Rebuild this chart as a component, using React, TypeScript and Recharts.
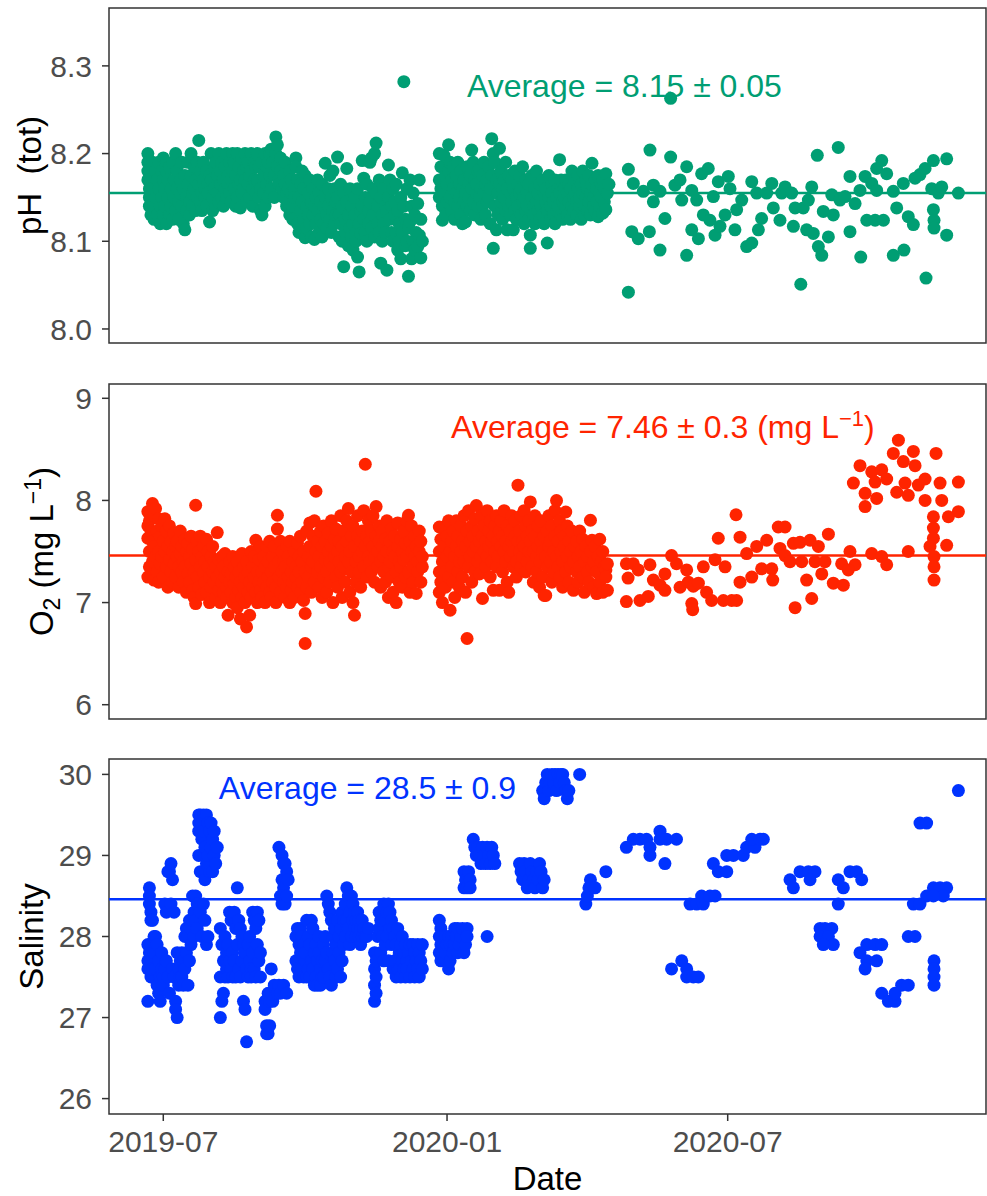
import React from 'react';
import {
  ScatterChart, Scatter, XAxis, YAxis, ReferenceLine, ReferenceArea, ReferenceDot,
} from 'recharts';

// x values are days counted from 2019-07-01
const dateTicks = [0, 184, 366];
const dateTickLabels = ['2019-07', '2020-01', '2020-07'];
const dateDomain: [number, number] = [-35.2, 533.5];

const phTicks = [8.0, 8.1, 8.2, 8.3];
const o2Ticks = [6, 7, 8, 9];
const salTicks = [26, 27, 28, 29, 30];

const phMean = 8.155;
const o2Mean = 7.46;
const salMean = 28.46;

const phRun2019: [number, number][] = [
  [-10, 8.2], [-10, 8.19], [-10, 8.18], [-10, 8.17], [-9, 8.16], [-9, 8.15], [-9, 8.14], [-8, 8.13], [-7, 8.19], [-7, 8.16],
  [-6, 8.14], [-6, 8.125], [-5, 8.18], [-5, 8.15], [-4, 8.17], [-4, 8.13], [-3, 8.19], [-3, 8.16], [-2, 8.14], [-2, 8.12],
  [-1, 8.18], [-1, 8.15], [0, 8.195], [0, 8.17], [0, 8.13], [1, 8.16], [1, 8.14], [2, 8.19], [2, 8.18], [2, 8.12],
  [3, 8.17], [3, 8.15], [4, 8.185], [4, 8.13], [5, 8.16], [5, 8.14], [6, 8.19], [6, 8.125], [7, 8.17], [7, 8.15],
  [8, 8.2], [8, 8.135], [9, 8.18], [9, 8.16], [10, 8.145], [10, 8.125], [11, 8.17], [11, 8.155], [12, 8.19], [12, 8.14],
  [13, 8.16], [13, 8.12], [14, 8.113], [14, 8.175], [15, 8.15], [15, 8.135], [16, 8.19], [16, 8.165], [17, 8.145], [17, 8.13],
  [18, 8.2], [18, 8.175], [19, 8.155], [19, 8.14], [20, 8.185], [20, 8.16], [21, 8.135], [21, 8.17], [22, 8.15], [22, 8.19],
  [23, 8.215], [23, 8.165], [24, 8.145], [24, 8.18], [25, 8.155], [25, 8.135], [26, 8.19], [26, 8.17], [27, 8.15], [27, 8.16],
  [28, 8.18], [28, 8.14], [29, 8.165], [29, 8.155], [30, 8.122], [30, 8.175], [31, 8.2], [31, 8.17], [32, 8.15], [32, 8.135],
  [33, 8.185], [33, 8.16], [34, 8.14], [34, 8.19], [35, 8.175], [35, 8.155], [36, 8.2], [36, 8.145], [37, 8.165], [37, 8.18],
  [38, 8.15], [38, 8.19], [39, 8.17], [39, 8.14], [40, 8.185], [40, 8.16], [41, 8.2], [41, 8.15], [42, 8.175], [42, 8.165],
  [43, 8.19], [43, 8.155], [44, 8.17], [44, 8.145], [45, 8.2], [45, 8.18], [46, 8.19], [46, 8.16], [47, 8.14], [47, 8.175],
  [48, 8.2], [48, 8.15], [49, 8.185], [49, 8.165], [50, 8.138], [50, 8.17], [51, 8.195], [51, 8.155], [52, 8.18], [52, 8.16],
  [53, 8.2], [53, 8.17], [54, 8.145], [54, 8.185], [55, 8.19], [55, 8.165], [56, 8.175], [56, 8.15], [57, 8.2], [57, 8.18],
  [58, 8.16], [58, 8.14], [59, 8.19], [59, 8.17], [60, 8.185], [60, 8.155], [61, 8.2], [61, 8.17], [62, 8.15], [62, 8.185],
  [63, 8.16], [63, 8.135], [64, 8.13], [64, 8.19], [65, 8.175], [65, 8.155], [66, 8.2], [66, 8.14], [67, 8.165], [67, 8.185],
  [68, 8.19], [68, 8.15], [69, 8.2], [69, 8.175], [70, 8.205], [70, 8.16], [71, 8.19], [72, 8.175], [72, 8.15],
  [73, 8.219], [73, 8.2], [74, 8.21], [74, 8.185], [75, 8.17], [75, 8.165], [76, 8.195], [76, 8.18], [77, 8.16], [78, 8.175],
  [78, 8.15], [79, 8.19], [79, 8.165], [80, 8.155], [80, 8.14], [81, 8.16], [81, 8.145], [82, 8.18], [82, 8.13], [83, 8.155],
  [83, 8.17], [84, 8.14], [84, 8.125], [85, 8.16], [85, 8.15], [86, 8.195], [86, 8.185], [87, 8.17], [87, 8.12], [88, 8.15],
  [88, 8.11], [89, 8.135], [89, 8.165], [90, 8.18], [90, 8.145], [91, 8.125], [91, 8.16], [92, 8.104], [92, 8.175], [93, 8.14],
  [93, 8.115], [94, 8.155], [94, 8.13], [95, 8.17], [95, 8.12], [96, 8.145], [96, 8.105], [97, 8.16], [97, 8.13], [98, 8.14],
  [98, 8.102], [99, 8.15], [99, 8.12], [100, 8.17], [100, 8.135], [101, 8.11], [101, 8.155], [102, 8.145], [102, 8.125], [103, 8.165],
  [103, 8.105], [104, 8.14], [104, 8.12], [105, 8.189], [105, 8.15], [106, 8.13], [106, 8.115], [107, 8.16], [107, 8.14], [108, 8.175],
  [108, 8.125], [109, 8.15], [109, 8.11], [110, 8.18], [110, 8.135], [111, 8.16], [111, 8.12], [112, 8.145], [112, 8.13], [113, 8.196],
  [113, 8.15], [114, 8.13], [114, 8.105], [115, 8.165], [115, 8.12], [116, 8.14], [116, 8.1], [117, 8.071], [117, 8.155], [118, 8.125],
  [118, 8.11], [119, 8.183], [119, 8.145], [120, 8.13], [120, 8.095], [121, 8.16], [121, 8.115], [122, 8.14], [122, 8.105], [123, 8.12],
  [123, 8.09], [124, 8.15], [124, 8.13], [125, 8.11], [125, 8.1], [126, 8.082], [126, 8.16], [127, 8.065], [127, 8.12], [128, 8.109],
  [128, 8.135], [129, 8.192], [129, 8.14], [130, 8.172], [130, 8.125], [131, 8.15], [131, 8.11], [132, 8.165], [132, 8.1], [133, 8.135],
  [133, 8.12], [134, 8.19], [134, 8.145], [135, 8.195], [135, 8.115], [136, 8.16], [136, 8.13], [137, 8.2], [137, 8.105], [138, 8.212],
  [138, 8.155], [139, 8.14], [139, 8.12], [140, 8.17], [140, 8.11], [141, 8.075], [141, 8.15], [142, 8.13], [142, 8.1], [143, 8.16],
  [143, 8.12], [144, 8.14], [144, 8.11], [145, 8.067], [145, 8.135], [146, 8.187], [146, 8.15], [147, 8.17], [147, 8.125], [148, 8.14],
  [148, 8.11], [149, 8.16], [149, 8.1], [150, 8.145], [150, 8.13], [151, 8.109], [151, 8.165], [152, 8.09], [152, 8.135], [153, 8.12],
  [153, 8.1], [154, 8.15], [154, 8.08], [155, 8.178], [155, 8.11], [156, 8.282], [156, 8.14], [157, 8.125], [157, 8.095], [158, 8.16],
  [158, 8.1], [159, 8.06], [159, 8.115], [160, 8.17], [160, 8.122], [161, 8.08], [161, 8.14], [162, 8.1], [162, 8.155], [163, 8.09],
  [163, 8.13], [164, 8.11], [165, 8.143], [165, 8.094], [166, 8.107], [166, 8.17], [167, 8.081], [167, 8.125], [168, 8.1],
];

const phRun2020: [number, number][] = [
  [179, 8.2], [179, 8.17], [179, 8.15], [180, 8.185], [180, 8.16], [181, 8.14], [181, 8.124], [182, 8.198], [182, 8.155], [183, 8.175],
  [183, 8.13], [184, 8.165], [184, 8.145], [185, 8.21], [185, 8.18], [186, 8.19], [186, 8.15], [187, 8.17], [187, 8.135], [188, 8.16],
  [188, 8.185], [189, 8.145], [189, 8.125], [190, 8.175], [190, 8.155], [191, 8.19], [191, 8.14], [192, 8.165], [192, 8.15], [193, 8.18],
  [193, 8.13], [194, 8.16], [194, 8.12], [195, 8.17], [195, 8.145], [196, 8.155], [196, 8.122], [197, 8.185], [197, 8.14], [198, 8.165],
  [198, 8.15], [199, 8.175], [199, 8.135], [200, 8.204], [200, 8.16], [201, 8.19], [201, 8.145], [202, 8.17], [202, 8.13], [203, 8.155],
  [203, 8.165], [204, 8.14], [204, 8.18], [205, 8.182], [205, 8.15], [206, 8.16], [206, 8.125], [207, 8.175], [207, 8.14], [208, 8.155],
  [208, 8.19], [209, 8.165], [209, 8.13], [210, 8.145], [210, 8.17], [211, 8.185], [211, 8.15], [212, 8.16], [212, 8.12], [213, 8.217],
  [213, 8.175], [214, 8.2], [214, 8.092], [215, 8.19], [215, 8.14], [216, 8.17], [216, 8.113], [217, 8.155], [217, 8.13], [218, 8.206],
  [218, 8.165], [219, 8.18], [219, 8.145], [220, 8.16], [220, 8.125], [221, 8.17], [221, 8.15], [222, 8.19], [222, 8.135], [223, 8.16],
  [223, 8.113], [224, 8.175], [224, 8.14], [225, 8.155], [225, 8.13], [226, 8.17], [226, 8.145], [227, 8.113], [227, 8.16], [228, 8.18],
  [228, 8.135], [229, 8.15], [229, 8.125], [230, 8.165], [230, 8.14], [231, 8.175], [231, 8.155], [232, 8.13], [232, 8.16], [233, 8.185],
  [233, 8.145], [234, 8.15], [234, 8.12], [235, 8.17], [235, 8.135], [236, 8.155], [236, 8.14], [237, 8.125], [237, 8.165], [238, 8.107],
  [238, 8.092], [239, 8.15], [239, 8.175], [240, 8.14], [240, 8.13], [241, 8.16], [241, 8.12], [242, 8.145], [242, 8.18], [243, 8.135],
  [243, 8.155], [244, 8.165], [244, 8.125], [245, 8.15], [245, 8.14], [246, 8.17], [246, 8.13], [247, 8.155], [247, 8.12], [248, 8.16],
  [248, 8.145], [249, 8.098], [249, 8.135], [250, 8.175], [250, 8.15], [251, 8.14], [251, 8.125], [252, 8.165], [252, 8.155], [253, 8.13],
  [253, 8.145], [254, 8.17], [254, 8.12], [255, 8.15], [255, 8.135], [256, 8.16], [256, 8.14], [257, 8.193], [257, 8.155], [258, 8.13],
  [258, 8.17], [259, 8.145], [259, 8.125], [260, 8.16], [260, 8.15], [261, 8.14], [261, 8.17], [262, 8.155], [262, 8.13], [263, 8.165],
  [263, 8.145], [264, 8.125], [264, 8.16], [265, 8.18], [265, 8.14], [266, 8.15], [266, 8.135], [267, 8.17], [267, 8.155], [268, 8.145],
  [268, 8.13], [269, 8.16], [269, 8.175], [270, 8.14], [270, 8.15], [271, 8.165], [271, 8.125], [272, 8.155], [272, 8.18], [273, 8.14],
  [273, 8.13], [274, 8.17], [274, 8.15], [275, 8.16], [275, 8.135], [276, 8.145], [276, 8.175], [277, 8.155], [277, 8.13], [278, 8.189],
  [278, 8.165], [279, 8.15], [279, 8.14], [280, 8.17], [280, 8.135], [281, 8.16], [281, 8.145], [282, 8.128], [282, 8.175], [283, 8.155],
  [283, 8.14], [284, 8.165], [284, 8.15], [285, 8.132], [285, 8.17], [286, 8.16], [286, 8.145], [287, 8.177], [287, 8.136], [288, 8.155],
  [289, 8.165],
];

const phSparse: [number, number][] = [
  [301.6, 8.182], [304.8, 8.166], [301.6, 8.042], [303.8, 8.111], [308, 8.103], [311.3, 8.157], [315.6, 8.204], [315.2, 8.111],
  [317.8, 8.164], [317.8, 8.145], [322.1, 8.157], [322.1, 8.09], [325.3, 8.126], [329, 8.196], [329, 8.263], [331.8, 8.164],
  [335.1, 8.17], [336.2, 8.147], [339.4, 8.185], [339.4, 8.084], [342.7, 8.158], [345.9, 8.147], [342.7, 8.113], [347, 8.103],
  [349.1, 8.177], [353.4, 8.183], [350.2, 8.13], [354.5, 8.124], [356.7, 8.151], [357.8, 8.107], [359.9, 8.168], [361, 8.117],
  [364.3, 8.13], [366.4, 8.174], [367.5, 8.16], [370.7, 8.113], [371.8, 8.136], [375.1, 8.147], [378.3, 8.094], [381.6, 8.098],
  [381.6, 8.168], [384.8, 8.155], [385.9, 8.113], [388, 8.126], [391.3, 8.155], [394.6, 8.166], [395.6, 8.138], [399.9, 8.124],
  [401, 8.155], [403.2, 8.162], [407.5, 8.155], [408.6, 8.117], [409.7, 8.138], [413.4, 8.051], [415, 8.138], [417.2, 8.113],
  [420.5, 8.162], [418.3, 8.147], [421.5, 8.109], [424.1, 8.198], [424.8, 8.094], [427, 8.084], [428, 8.134], [431.3, 8.105],
  [433.5, 8.153], [434.5, 8.13], [437.7, 8.207], [438.8, 8.147], [442.1, 8.151], [445.3, 8.174], [445.3, 8.111], [448.6, 8.143],
  [451.8, 8.158], [452.3, 8.082], [455.1, 8.174], [456.2, 8.124], [459.4, 8.166], [462.6, 8.183], [462.6, 8.158], [461.6, 8.124],
  [465.9, 8.192], [467, 8.124], [469.1, 8.177], [473.4, 8.157], [473.4, 8.084], [475.6, 8.138], [479.9, 8.166], [480.3, 8.09],
  [483.1, 8.128], [486.4, 8.119], [487.5, 8.172], [490.7, 8.176], [494, 8.183], [494.6, 8.058], [498.3, 8.16], [499.4, 8.192],
  [499.4, 8.136], [499.8, 8.124], [499.8, 8.115], [502.6, 8.155], [504.8, 8.162], [508, 8.194], [508, 8.107], [515.6, 8.155],
];

const o2Run2019: [number, number][] = [
  [-10, 7.89], [-10, 7.63], [-10, 7.25], [-10, 7.75], [-9, 7.8], [-9, 7.5], [-9, 7.35], [-8, 7.7], [-8, 7.28], [-7, 7.97],
  [-7, 7.6], [-7, 7.4], [-6, 7.85], [-6, 7.55], [-6, 7.22], [-5, 7.92], [-5, 7.45], [-4, 7.7], [-4, 7.3], [-3, 7.82],
  [-3, 7.5], [-3, 7.2], [-2, 7.65], [-2, 7.38], [-1, 7.75], [-1, 7.45], [0, 7.6], [0, 7.25], [1, 7.82], [1, 7.5],
  [2, 7.7], [2, 7.35], [3, 7.55], [3, 7.15], [4, 7.75], [4, 7.42], [5, 7.6], [5, 7.3], [6, 7.5], [6, 7.2],
  [7, 7.68], [7, 7.38], [8, 7.55], [8, 7.25], [9, 7.45], [9, 7.6], [10, 7.35], [10, 7.15], [11, 7.7], [11, 7.48],
  [12, 7.3], [12, 7.55], [13, 7.4], [13, 7.2], [14, 7.62], [14, 7.35], [15, 7.5], [15, 7.1], [16, 7.28], [16, 7.58],
  [17, 7.45], [17, 7.2], [18, 7.65], [18, 7.38], [19, 7.52], [19, 7.12], [20, 7.3], [20, 7.05], [21, 7.953], [21, 6.99],
  [21, 7.42], [22, 7.6], [22, 7.25], [23, 7.5], [23, 7.15], [24, 7.35], [24, 7.65], [25, 7.45], [25, 7.08], [26, 7.55],
  [26, 7.3], [27, 7.2], [27, 7.4], [28, 7.62], [28, 7.1], [29, 7.35], [29, 7.5], [30, 7.25], [30, 7.0], [31, 7.45],
  [31, 7.15], [32, 7.55], [32, 7.3], [33, 7.2], [33, 7.4], [34, 7.05], [34, 7.35], [35, 7.685], [35, 7.25], [36, 7.42],
  [36, 7.12], [37, 7.3], [37, 7.0], [38, 7.2], [38, 7.45], [39, 7.1], [39, 7.35], [40, 7.25], [40, 7.48], [41, 7.15],
  [41, 7.05], [42, 6.876], [42, 7.3], [43, 7.4], [43, 7.2], [44, 7.1], [44, 7.28], [45, 7.45], [45, 7.0], [46, 7.18],
  [46, 7.35], [47, 7.25], [47, 7.05], [48, 6.95], [48, 7.4], [49, 7.12], [49, 7.3], [50, 6.84], [50, 7.2], [51, 7.48],
  [51, 7.05], [52, 7.35], [52, 7.15], [53, 7.25], [53, 7.0], [54, 6.762], [54, 7.4], [55, 7.1], [55, 7.3], [56, 6.876],
  [56, 7.2], [57, 7.5], [57, 7.05], [58, 7.35], [58, 7.15], [59, 7.25], [59, 7.45], [60, 7.61], [60, 7.1], [61, 7.3],
  [61, 7.0], [62, 7.42], [62, 7.2], [63, 7.55], [63, 7.12], [64, 7.3], [64, 7.05], [65, 7.45], [65, 7.2], [66, 7.35],
  [66, 7.0], [67, 7.55], [67, 7.15], [68, 7.25], [68, 7.4], [69, 7.1], [69, 7.6], [70, 7.3], [70, 7.05], [71, 7.45],
  [71, 7.2], [72, 7.35], [72, 7.55], [73, 7.15], [73, 7.0], [74, 7.855], [74, 7.72], [75, 7.4], [75, 7.25], [76, 7.6],
  [76, 7.1], [77, 7.3], [77, 7.5], [78, 7.2], [78, 7.4], [79, 7.05], [79, 7.35], [80, 7.55], [80, 7.15], [81, 7.25],
  [81, 7.45], [82, 7.0], [82, 7.6], [83, 7.3], [83, 7.12], [84, 7.4], [84, 7.2], [85, 7.5], [85, 7.05], [86, 7.35],
  [86, 7.25], [87, 7.15], [87, 7.58], [88, 7.45], [88, 7.3], [89, 7.1], [89, 7.65], [90, 7.2], [90, 7.4], [91, 7.02],
  [91, 7.5], [92, 6.893], [92, 6.599], [92, 7.3], [93, 7.7], [93, 7.15], [94, 7.45], [94, 7.25], [95, 7.78], [95, 7.55],
  [96, 7.35], [96, 7.1], [97, 7.65], [97, 7.4], [98, 7.8], [98, 7.2], [99, 8.09], [99, 7.5], [100, 7.3], [100, 7.6],
  [101, 7.45], [101, 7.15], [102, 7.7], [102, 7.35], [103, 7.55], [103, 7.05], [104, 7.75], [104, 7.25], [105, 7.42], [105, 7.6],
  [106, 7.3], [106, 7.1], [107, 7.5], [107, 7.68], [108, 7.2], [108, 7.4], [109, 7.8], [109, 7.55], [110, 7.35], [110, 7.0],
  [111, 7.62], [111, 7.45], [112, 7.25], [112, 7.72], [113, 7.5], [113, 7.15], [114, 7.4], [114, 7.6], [115, 7.3], [115, 7.85],
  [116, 7.55], [116, 7.05], [117, 7.7], [117, 7.35], [118, 7.45], [118, 7.2], [119, 7.6], [119, 7.8], [120, 7.92], [120, 7.4],
  [121, 7.5], [121, 7.1], [122, 7.65], [122, 7.3], [123, 7.75], [123, 7.0], [124, 6.876], [124, 7.55], [125, 7.4], [125, 7.2],
  [126, 7.65], [126, 7.85], [127, 7.45], [127, 7.3], [128, 7.6], [128, 7.15], [129, 7.7], [129, 7.5], [130, 7.9], [130, 7.35],
  [131, 8.354], [131, 7.55], [132, 7.65], [132, 7.25], [133, 7.8], [133, 7.45], [134, 7.6], [134, 7.4], [135, 7.7], [135, 7.3],
  [136, 7.55], [136, 7.85], [137, 7.45], [137, 7.2], [138, 7.94], [138, 7.65], [139, 7.5], [139, 7.35], [140, 7.75], [140, 7.6],
  [141, 7.4], [141, 7.15], [142, 7.55], [142, 7.7], [143, 7.3], [143, 7.45], [144, 7.62], [144, 7.2], [145, 7.8], [145, 7.5],
  [146, 7.35], [146, 7.05], [147, 7.6], [147, 7.4], [148, 7.72], [148, 7.25], [149, 7.5], [149, 7.1], [150, 7.45], [150, 7.65],
  [151, 7.3], [151, 7.0], [152, 7.55], [152, 7.78], [153, 7.4], [153, 7.2], [154, 7.62], [154, 7.35], [155, 7.5], [155, 7.15],
  [156, 7.7], [156, 7.42], [157, 7.25], [157, 7.58], [158, 7.8], [158, 7.45], [159, 7.855], [159, 7.3], [160, 7.6], [160, 7.1],
  [161, 7.75], [161, 7.5], [162, 7.35], [162, 7.2], [163, 7.65], [163, 7.45], [164, 7.55], [164, 7.09], [165, 7.4], [165, 7.3],
  [166, 7.7], [166, 7.5], [167, 7.2], [167, 7.6], [168, 7.35], [168, 7.45],
];

const o2Run2020: [number, number][] = [
  [179, 7.74], [179, 7.5], [179, 7.3], [179, 7.1], [180, 7.62], [180, 7.2], [181, 7.4], [181, 7.0], [182, 7.74], [182, 7.55],
  [183, 7.3], [183, 7.15], [184, 7.65], [184, 7.45], [185, 7.8], [185, 7.25], [186, 6.925], [186, 7.5], [187, 7.6], [187, 7.35],
  [188, 7.7], [188, 7.2], [189, 7.45], [189, 7.05], [190, 7.8], [190, 7.55], [191, 7.3], [191, 7.65], [192, 7.4], [192, 7.15],
  [193, 7.75], [193, 7.5], [194, 7.6], [194, 7.25], [195, 7.85], [195, 7.4], [196, 7.55], [196, 7.1], [197, 6.648], [197, 7.7],
  [198, 7.9], [198, 7.35], [199, 7.6], [199, 7.45], [200, 7.75], [200, 7.2], [201, 7.5], [201, 7.65], [202, 7.3], [202, 7.82],
  [203, 7.95], [203, 7.55], [204, 7.4], [204, 7.7], [205, 7.6], [205, 7.28], [206, 7.85], [206, 7.45], [207, 7.04], [207, 7.65],
  [208, 7.5], [208, 7.75], [209, 7.35], [209, 7.6], [210, 7.9], [210, 7.45], [211, 7.55], [211, 7.7], [212, 7.25], [212, 7.8],
  [213, 7.6], [213, 7.4], [214, 7.65], [214, 7.12], [215, 7.5], [215, 7.75], [216, 7.85], [216, 7.35], [217, 7.6], [217, 7.45],
  [218, 7.12], [218, 7.7], [219, 7.55], [219, 7.8], [220, 7.3], [220, 7.65], [221, 7.5], [221, 7.9], [222, 7.4], [222, 7.6],
  [223, 7.75], [223, 7.2], [224, 7.1], [224, 7.55], [225, 7.7], [225, 7.45], [226, 7.85], [226, 7.6], [227, 7.35], [227, 7.5],
  [228, 7.65], [228, 7.8], [229, 7.4], [229, 7.25], [230, 8.149], [230, 7.6], [231, 7.7], [231, 7.5], [232, 7.85], [232, 7.35],
  [233, 7.6], [233, 7.45], [234, 7.9], [234, 7.55], [235, 7.75], [235, 7.3], [236, 7.65], [236, 7.4], [237, 7.8], [237, 7.5],
  [238, 7.985], [238, 7.6], [239, 7.35], [239, 7.7], [240, 7.5], [240, 7.2], [241, 7.65], [241, 7.85], [242, 7.45], [242, 7.3],
  [243, 7.75], [243, 7.55], [244, 7.4], [244, 7.15], [245, 7.6], [245, 7.8], [246, 7.5], [246, 7.25], [247, 7.07], [247, 7.65],
  [248, 7.07], [248, 7.45], [249, 7.7], [249, 7.35], [250, 7.55], [250, 7.85], [251, 7.4], [251, 7.6], [252, 7.2], [252, 7.75],
  [253, 7.5], [253, 7.3], [254, 7.65], [254, 7.9], [255, 7.999], [255, 7.45], [256, 7.6], [256, 7.35], [257, 7.8], [257, 7.25],
  [258, 7.5], [258, 7.7], [259, 7.4], [259, 7.15], [260, 7.65], [260, 7.55], [261, 7.887], [261, 7.3], [262, 7.45], [262, 7.75],
  [263, 7.6], [263, 7.2], [264, 7.5], [264, 7.35], [265, 7.7], [266, 7.4], [266, 7.12], [267, 7.55], [268, 7.3], [268, 7.6],
  [269, 7.45], [269, 7.2], [270, 7.7], [270, 7.35], [271, 7.5], [272, 7.25], [272, 7.62], [273, 7.4], [273, 7.1], [274, 7.55],
  [275, 7.3], [275, 7.45], [276, 7.2], [277, 7.806], [277, 7.5], [278, 7.61], [278, 7.35], [279, 7.4], [279, 7.15], [280, 7.55],
  [281, 7.088], [281, 7.3], [282, 7.45], [283, 7.62], [283, 7.2], [284, 7.4], [285, 7.1], [285, 7.5], [286, 7.35], [287, 7.32],
  [287, 7.25], [288, 7.38], [288, 7.12],
];

const o2Sparse: [number, number][] = [
  [300.3, 7.38], [304.8, 7.38], [301.4, 7.24], [300.3, 7.01], [308, 7.32], [309.1, 7.02], [315.6, 7.37], [314.5, 7.06],
  [317.8, 7.22], [322.1, 7.17], [325.3, 7.28], [325.3, 7.12], [329.6, 7.46], [332.8, 7.38], [335.1, 7.15], [339.4, 7.32],
  [340.5, 7.2], [343.7, 7.16], [342.7, 6.99], [343.3, 6.93], [347, 7.19], [350.2, 7.35], [352.3, 7.1], [355.6, 7.02],
  [357.8, 7.42], [359.9, 7.63], [363.2, 7.02], [364.3, 7.35], [368.6, 7.02], [371.8, 7.02], [371.4, 7.86], [374, 7.64],
  [374, 7.2], [378.3, 7.48], [381.6, 7.25], [384.8, 7.55], [388, 7.33], [391.3, 7.61], [394.6, 7.33], [395.2, 7.22],
  [398.8, 7.74], [403.2, 7.74], [399.9, 7.53], [403.2, 7.46], [406.4, 7.4], [408.6, 7.58], [409.7, 6.95], [412.9, 7.59],
  [414, 7.4], [417.2, 7.22], [420.5, 7.04], [419.4, 7.61], [424.8, 7.55], [422.6, 7.4], [427, 7.28], [431.3, 7.67],
  [429.1, 7.4], [434.5, 7.19], [441, 7.17], [439.9, 7.38], [445.3, 7.5], [448.6, 7.37], [444.2, 7.32], [459.4, 7.48],
  [465.9, 7.45], [469.1, 7.37], [483.1, 7.5],
  [447.5, 8.17], [451.8, 8.34], [455.1, 7.94], [455.1, 8.07], [459.4, 8.28], [461.6, 8.18], [462.6, 8.02], [465.9, 8.3],
  [469.1, 8.21], [473.4, 8.46], [476.7, 8.59], [475.6, 8.08], [479.9, 8.38], [481, 8.17], [483.1, 8.05], [486.4, 8.48],
  [487.5, 8.34], [489.6, 8.15], [494, 8.21], [494, 8.0], [501.1, 8.46], [503.7, 8.17], [504.8, 8.0], [515.6, 8.18],
  [515.6, 7.89], [509.1, 7.84], [508, 7.56], [499.4, 7.84], [499.4, 7.73], [499.4, 7.63], [497.2, 7.55], [499.8, 7.45],
  [499.8, 7.35], [499.8, 7.22],
];

const salRun2019: [number, number][] = [
  [-10, 27.9], [-10, 27.7], [-10, 27.6], [-10, 27.2], [-9, 28.6], [-9, 28.5], [-9, 28.4], [-9, 27.8], [-8, 28.3], [-8, 28.2],
  [-8, 27.9], [-8, 27.5], [-7, 28.2], [-7, 27.7], [-7, 27.6], [-6, 28.0], [-6, 27.8], [-5, 28.0], [-5, 27.6], [-4, 27.9],
  [-4, 27.4], [-3, 27.7], [-3, 27.3], [-2, 27.5], [-2, 27.2], [-1, 27.6], [-1, 27.8], [0, 27.4], [0, 27.5],
  [1, 28.4], [1, 27.6], [2, 28.3], [2, 27.7], [3, 28.8], [3, 27.5], [4, 28.8], [4, 27.3], [5, 28.9], [5, 28.4],
  [6, 28.7], [6, 27.6], [7, 28.3], [7, 27.5], [8, 27.2], [8, 27.1], [9, 27.0], [9, 27.8], [10, 27.4], [10, 27.6],
  [11, 27.5], [11, 27.7], [12, 27.8], [12, 27.5], [13, 27.7], [13, 27.4], [14, 28.0], [14, 27.6], [15, 28.1], [15, 27.8],
  [16, 28.0], [16, 27.4], [17, 28.2], [17, 27.7], [18, 28.1], [18, 27.9], [19, 28.5], [19, 28.2], [20, 28.3], [20, 28.0],
  [21, 28.5], [21, 28.2], [22, 28.4], [22, 28.1],
  [23, 29.5], [23, 29.4], [23, 29.3], [23, 29.0], [24, 28.8], [24, 29.5], [25, 29.4], [25, 29.2], [26, 29.5], [26, 29.3],
  [27, 28.7], [27, 29.1], [28, 29.5], [28, 28.9], [29, 29.4], [29, 29.0], [30, 29.3], [30, 28.8], [31, 29.4], [31, 29.1],
  [32, 29.2], [32, 28.8], [33, 29.3], [33, 29.0], [34, 28.9], [35, 29.1],
  [24, 28.3], [25, 28.0], [26, 28.4], [27, 28.2], [28, 27.9], [29, 28.0],
  [37, 28.1], [37, 27.5], [37, 27.0], [38, 27.9], [38, 27.2], [39, 27.7], [39, 27.3], [40, 28.0], [40, 27.5], [41, 27.8],
  [41, 27.6], [42, 27.9], [42, 27.5], [43, 28.3], [43, 27.7], [44, 28.2], [44, 27.6], [45, 27.8], [45, 27.5], [46, 28.3],
  [46, 27.7], [47, 28.1], [47, 27.5], [48, 28.6], [48, 27.9], [49, 28.2], [49, 27.6],
  [50, 28.1], [50, 27.5], [51, 28.0], [51, 27.7], [52, 27.9], [52, 27.2], [53, 27.8], [53, 27.1], [54, 26.7], [54, 27.6],
  [55, 27.9], [55, 27.5], [56, 27.7], [56, 28.0], [57, 27.6], [57, 27.5], [58, 28.3], [58, 27.8], [59, 28.2], [59, 27.6],
  [60, 28.1], [60, 27.5], [61, 28.3], [61, 27.9], [62, 28.2], [62, 27.7], [63, 27.8], [63, 27.5], [70, 27.6],
  [66, 27.2], [66, 27.1], [67, 26.9], [67, 26.8], [68, 27.3], [68, 26.8], [69, 27.2], [69, 26.9], [70, 27.3], [71, 27.2],
  [72, 27.4], [73, 27.3], [74, 27.3], [75, 27.4], [76, 27.3], [78, 27.4], [80, 27.3],
  [75, 29.1], [77, 29.0], [78, 28.9], [79, 28.7], [77, 28.7], [78, 28.6], [79, 28.9], [80, 28.8], [76, 28.5], [77, 28.4],
  [79, 28.4], [80, 28.5], [81, 28.7],
  [86, 28.0], [86, 27.7], [87, 28.1], [87, 27.6], [88, 27.9], [88, 27.5], [89, 28.1], [89, 27.8], [90, 28.0], [90, 27.6],
  [91, 27.9], [91, 27.5], [92, 27.7], [92, 27.8], [93, 28.2], [93, 27.5], [94, 28.0], [94, 27.6], [95, 27.9], [95, 27.5],
  [96, 28.2], [96, 27.7], [97, 28.1], [97, 27.6], [98, 27.8], [98, 27.4], [99, 27.9], [99, 27.5], [100, 27.7], [100, 27.4],
  [101, 27.8], [101, 28.0], [102, 27.6], [102, 27.4], [103, 27.7], [103, 27.5],
  [104, 27.9], [104, 27.5], [105, 28.0], [105, 27.7], [106, 28.5], [106, 27.8], [107, 28.4], [107, 27.6], [108, 28.3], [108, 27.5],
  [109, 28.2], [109, 27.4], [110, 28.0], [110, 27.8], [111, 28.1], [111, 27.7], [112, 27.9], [112, 27.5], [113, 28.2], [113, 27.6],
  [114, 28.0], [114, 27.8], [115, 28.1], [115, 27.5], [116, 28.3], [116, 27.7], [117, 28.2], [117, 27.9], [118, 28.4], [118, 28.0],
  [119, 28.6], [119, 28.2], [120, 28.5], [120, 28.1], [121, 28.3], [121, 27.9], [122, 28.5], [122, 28.0], [123, 28.4], [123, 28.2],
  [124, 28.3], [124, 28.1], [125, 28.2], [125, 28.0], [126, 28.3], [126, 28.1], [127, 28.2], [127, 28.0], [128, 28.1], [128, 27.9],
  [129, 28.0], [129, 28.2], [130, 28.1], [131, 28.0], [132, 28.0], [133, 28.1],
  [137, 27.8], [137, 27.6], [137, 27.4], [137, 27.2], [138, 27.7], [138, 27.5], [138, 27.3], [139, 28.0], [140, 28.3], [140, 28.1],
  [141, 27.8], [141, 28.2], [142, 28.0], [143, 28.4], [143, 27.7], [144, 28.2], [144, 27.9], [145, 28.3], [145, 28.0], [146, 28.4],
  [146, 27.7], [147, 28.3], [147, 28.1], [148, 28.2], [148, 27.9], [149, 28.1], [149, 27.6], [150, 28.0], [150, 27.7], [151, 27.9],
  [151, 27.5], [152, 28.1], [152, 27.6],
  [153, 27.8], [153, 27.6], [154, 27.9], [154, 27.5], [155, 28.0], [155, 27.7], [156, 27.8], [156, 27.6], [157, 27.9], [157, 27.5],
  [158, 27.7], [158, 27.6], [159, 27.8], [160, 27.5], [160, 27.9], [161, 27.7], [162, 27.9], [162, 27.6], [163, 27.8], [163, 27.5],
  [164, 27.7], [165, 27.9], [165, 27.6], [166, 27.8], [166, 27.5], [167, 27.7], [168, 27.9], [168, 27.6],
];

const salRun2020: [number, number][] = [
  [179, 28.2], [179, 28.0], [179, 27.8], [180, 28.1], [180, 27.9], [180, 27.7], [181, 28.0], [181, 27.8], [182, 27.9], [182, 27.7],
  [183, 28.0], [183, 27.8], [184, 27.9], [185, 27.6], [185, 28.0], [186, 27.9], [186, 27.7], [187, 28.0], [188, 27.9], [188, 27.8],
  [189, 28.1], [189, 27.9], [190, 28.0], [191, 28.1], [191, 27.8], [192, 27.9], [193, 28.0], [194, 28.1], [195, 27.8], [196, 27.9],
  [197, 28.1], [197, 28.0],
  [195, 28.8], [195, 28.6], [196, 28.7], [197, 28.6], [198, 28.8], [199, 28.7], [199, 28.6],
  [201, 29.2], [202, 29.1], [203, 29.0], [204, 29.1], [205, 29.0], [206, 28.9], [207, 29.1], [208, 29.0], [209, 28.9], [210, 29.1],
  [211, 29.0], [212, 28.9], [213, 29.1], [214, 29.0], [215, 28.9], [210, 28.0],
  [231, 28.9], [232, 28.8], [233, 28.7], [234, 28.9], [235, 28.8], [236, 28.6], [237, 28.7], [238, 28.9], [239, 28.8], [240, 28.7],
  [241, 28.6], [242, 28.8], [243, 28.7], [244, 28.9], [245, 28.8], [246, 28.6], [247, 28.7],
  [246, 29.8], [247, 29.7], [248, 29.9], [249, 30.0], [250, 29.8], [251, 29.9], [252, 30.0], [253, 29.9], [254, 30.0], [255, 29.8],
  [256, 30.0], [257, 29.9], [258, 30.0], [259, 30.0], [260, 29.9], [261, 29.8], [262, 29.7], [263, 29.8], [270, 30.0],
  [274, 28.4], [275, 28.5], [276, 28.6], [277, 28.7], [278, 28.6], [280, 28.6], [287, 28.8],
];

const salSparse: [number, number][] = [
  [300.3, 29.1], [304.8, 29.2], [309.1, 29.2], [313.4, 29.2], [315.6, 29.1], [315.6, 29.0], [322.1, 29.3], [322.1, 29.2],
  [326.4, 29.2], [332.8, 29.2], [325.3, 28.9],
  [329.6, 27.6], [336.2, 27.7], [339.4, 27.6], [339.4, 27.5], [343.7, 27.5], [347, 27.5],
  [341.6, 28.4], [345.9, 28.4], [350.2, 28.4], [349.1, 28.5], [354.5, 28.5], [357.8, 28.5],
  [356.7, 28.9], [359.9, 28.8], [365.4, 28.8], [365.4, 29.0], [369.7, 29.0], [376.1, 29.0], [378.3, 29.1], [383.7, 29.1],
  [381.6, 29.2], [386.9, 29.2], [389.1, 29.2],
  [406.4, 28.7], [408.6, 28.6], [412.9, 28.8], [418.3, 28.8], [422.6, 28.8], [419.4, 28.7],
  [425.9, 28.1], [429.1, 28.1], [433.5, 28.1], [425.9, 28.0], [431.3, 28.0], [434.5, 27.9], [428, 27.9],
  [437.7, 28.7], [441, 28.6], [445.3, 28.8], [449.6, 28.8], [452.9, 28.7], [437.7, 28.4],
  [451.8, 27.8], [456.2, 27.9], [461.6, 27.9], [465.9, 27.9], [456.2, 27.7], [462.6, 27.7], [455.1, 27.6],
  [465.9, 27.3], [470.2, 27.2], [474.5, 27.2], [474.5, 27.3], [478.8, 27.4], [483.1, 27.4],
  [483.1, 28.0], [487.5, 28.0], [486.4, 28.4], [490.7, 28.4], [490.7, 29.4], [495, 29.4],
  [495, 28.5], [499.4, 28.6], [503.7, 28.6], [508, 28.6], [505.8, 28.5], [499.4, 28.5],
  [499.8, 27.7], [499.8, 27.6], [499.8, 27.5], [499.8, 27.4], [515.6, 29.8],
];

const toPoints = (...runs: [number, number][][]) =>
  runs.flat().map(([x, y]) => ({ x, y }));

const FONT = '"Liberation Sans", Arial, Helvetica, sans-serif';
const TICK_GREY = '#4D4D4D';
const FRAME = '#333333';

const yTitle = (content: React.ReactNode, baseX: number) => (props: any) => {
  const vb = props.viewBox;
  const cy = vb.y + vb.height / 2;
  return (
    <text x={baseX} y={cy} transform={`rotate(-90 ${baseX} ${cy})`} textAnchor="middle"
      fontSize={33} fill="#000" fontFamily={FONT}>
      {content}
    </text>
  );
};

const noteLabel = (content: React.ReactNode, color: string) => (props: any) => {
  const vb = props.viewBox;
  const cx = vb.x + (vb.width || 0) / 2;
  const cy = vb.y + (vb.height || 0) / 2;
  return (
    <text x={cx} y={cy} dy="0.36em" textAnchor="middle" fontSize={32} fill={color} fontFamily={FONT}>
      {content}
    </text>
  );
};

interface PanelProps {
  top: number;
  height: number;
  margin: { top: number; bottom: number };
  points: { x: number; y: number }[];
  color: string;
  domain: [number, number];
  ticks: number[];
  digits: number;
  mean: number;
  note: { x: number; y: number; content: React.ReactNode };
  title: React.ReactNode;
  titleX: number;
  showDates?: boolean;
}

function Panel(p: PanelProps) {
  return (
    <div style={{ position: 'absolute', left: 0, top: p.top }}>
      <ScatterChart width={987} height={p.height}
        margin={{ top: p.margin.top, bottom: p.margin.bottom, left: 0, right: 1 }}>
        <XAxis type="number" dataKey="x" domain={dateDomain} allowDataOverflow
          hide={!p.showDates} ticks={dateTicks} interval={0} height={82}
          tickFormatter={(v) => dateTickLabels[dateTicks.indexOf(v)]}
          tickSize={7} tickMargin={10} axisLine={false}
          tickLine={{ stroke: FRAME, strokeWidth: 1.5 }}
          tick={{ fontSize: 30, fill: TICK_GREY, fontFamily: FONT }}
          label={{
            content: (props: any) => {
              const vb = props.viewBox;
              return (
                <text x={vb.x + vb.width / 2} y={vb.y + 76} textAnchor="middle" fontSize={33}
                  fill="#000" fontFamily={FONT}>Date</text>
              );
            },
          }}
        />
        <YAxis type="number" dataKey="y" domain={p.domain} allowDataOverflow ticks={p.ticks}
          interval={0} width={109} tickSize={7} tickMargin={10} axisLine={false}
          tickLine={{ stroke: FRAME, strokeWidth: 1.5 }}
          tick={{ fontSize: 30, fill: TICK_GREY, fontFamily: FONT }}
          tickFormatter={(v: number) => v.toFixed(p.digits)}
          label={{ content: yTitle(p.title, p.titleX) }}
        />
        <ReferenceArea x1={dateDomain[0]} x2={dateDomain[1]} y1={p.domain[0]} y2={p.domain[1]}
          fill="none" stroke={FRAME} strokeWidth={1.5} fillOpacity={0} ifOverflow="visible" />
        <ReferenceLine y={p.mean} stroke={p.color} strokeWidth={2.5} />
        <Scatter data={p.points} isAnimationActive={false}
          shape={(s: any) => <circle cx={s.cx} cy={s.cy} r={6.5} fill={p.color} />} />
        <ReferenceDot x={p.note.x} y={p.note.y} r={0} fill="none" stroke="none"
          label={{ content: noteLabel(p.note.content, p.color) }} />
      </ScatterChart>
    </div>
  );
}

export default function App() {
  const green = '#009E73';
  const red = '#FF2400';
  const blue = '#0033FF';
  return (
    <div style={{ position: 'absolute', left: 0, top: 0, width: 987, height: 1196, background: '#fff', fontFamily: FONT }}>
      <Panel top={0} height={360} margin={{ top: 8, bottom: 17 }}
        points={toPoints(phRun2019, phRun2020, phSparse)} color={green}
        domain={[7.984, 8.366]} ticks={phTicks} digits={1} mean={phMean}
        note={{ x: 299, y: 8.278, content: 'Average = 8.15 ± 0.05' }}
        title={'pH\u00a0\u00a0(tot)'} titleX={41} />
      <Panel top={370} height={360} margin={{ top: 14, bottom: 11 }}
        points={toPoints(o2Run2019, o2Run2020, o2Sparse)} color={red}
        domain={[5.86, 9.14]} ticks={o2Ticks} digits={0} mean={o2Mean}
        note={{
          x: 324, y: 8.72,
          content: (
            <>
              <tspan>Average = 7.46 ± 0.3 (mg L</tspan>
              <tspan dy={-12} fontSize={22}>−1</tspan>
              <tspan dy={12}>)</tspan>
            </>
          ),
        }}
        title={
          <>
            <tspan>O</tspan>
            <tspan dy={7} fontSize={23}>2</tspan>
            <tspan dy={-7}>{'\u00a0(mg L'}</tspan>
            <tspan dy={-12} fontSize={23}>−1</tspan>
            <tspan dy={12}>)</tspan>
          </>
        }
        titleX={53} />
      <Panel top={740} height={456} margin={{ top: 19, bottom: 0 }}
        points={toPoints(salRun2019, salRun2020, salSparse)} color={blue}
        domain={[25.81, 30.19]} ticks={salTicks} digits={0} mean={salMean}
        note={{ x: 132.4, y: 29.836, content: 'Average = 28.5 ± 0.9' }}
        title={'Salinity'} titleX={43} showDates />
    </div>
  );
}
